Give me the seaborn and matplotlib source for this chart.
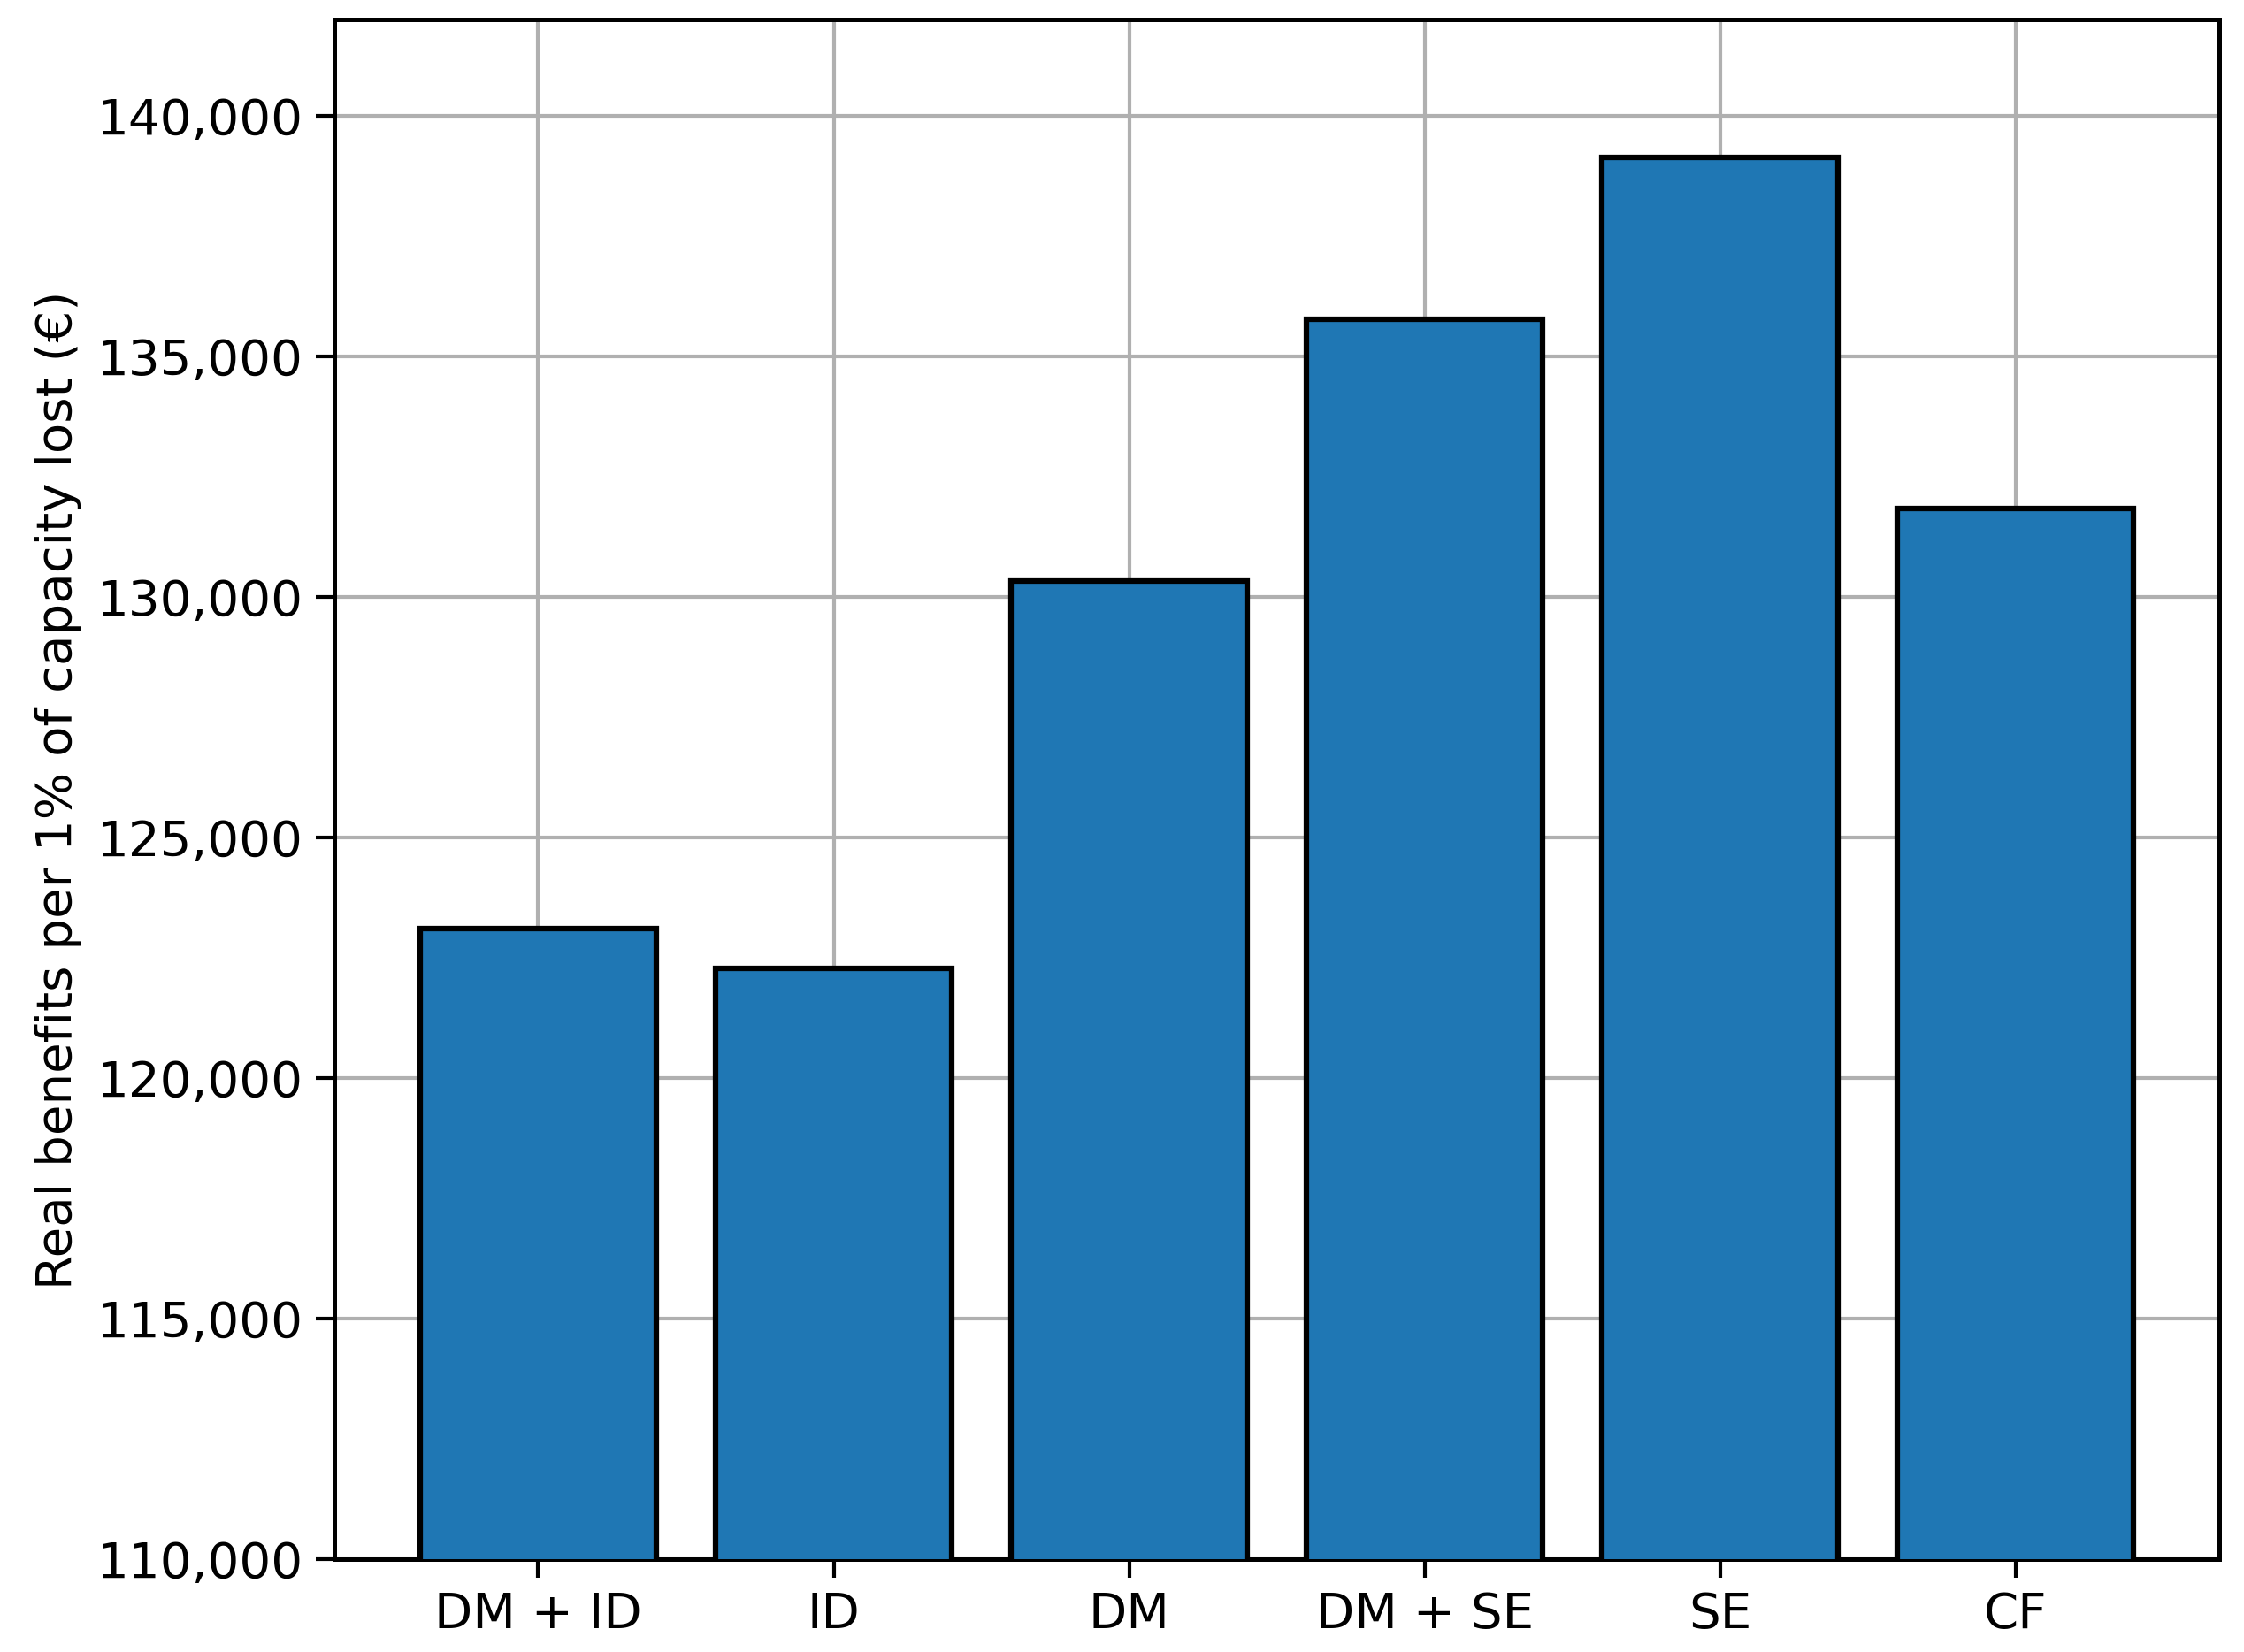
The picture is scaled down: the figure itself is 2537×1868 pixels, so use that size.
import matplotlib
matplotlib.use("Agg")
import matplotlib.pyplot as plt
import seaborn as sns
import pandas as pd
from matplotlib.ticker import FuncFormatter

categories = ["DM + ID", "ID", "DM", "DM + SE", "SE", "CF"]
values = [123110, 122280, 130340, 135780, 139140, 131850]

sns.set_style("white")
plt.rcParams['font.family'] = ['DejaVu Sans']
plt.rcParams['text.color'] = 'black'
plt.rcParams['axes.labelcolor'] = 'black'
plt.rcParams['xtick.color'] = 'black'
plt.rcParams['ytick.color'] = 'black'
df = pd.DataFrame({"cat": categories, "val": values})

fig = plt.figure(figsize=(2537/300, 1868/300), dpi=300)
ax = fig.add_axes([0.149, 0.056, 0.840, 0.932])
sns.barplot(data=df, x="cat", y="val", color="#1f77b4", saturation=1,
            edgecolor="black", linewidth=1.5, width=0.8, ax=ax, zorder=3)
ax.set_ylim(110000, 142000)
ax.set_xlim(-0.69, 5.69)
ax.yaxis.set_major_formatter(FuncFormatter(lambda v, p: f"{int(v):,}"))
ax.grid(True, color="#b0b0b0", linewidth=1.0, zorder=0)
ax.set_axisbelow(True)
for s in ax.spines.values():
    s.set_linewidth(1.2)
    s.set_color("black")
ax.tick_params(axis="both", labelsize=13.5, length=5, width=1.0, direction="out",
               bottom=True, left=True, colors="black")
ax.set_xlabel("")
ax.set_ylabel("Real benefits per 1% of capacity lost (€)", fontsize=13.5, color="black")
fig.savefig("out.png", dpi=300)
